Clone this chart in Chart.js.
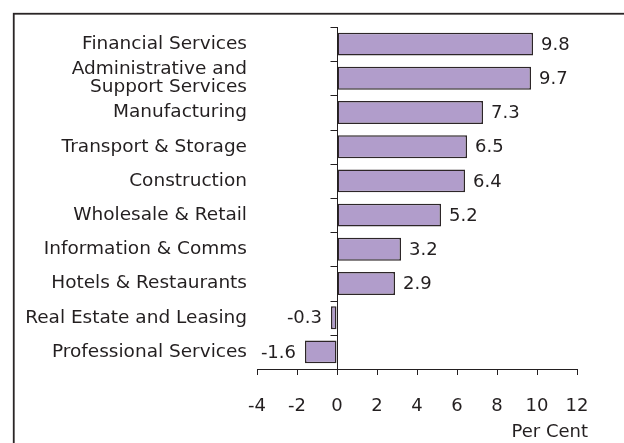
<!DOCTYPE html>
<html>
<head>
<meta charset="utf-8">
<script src="https://cdn.jsdelivr.net/npm/chart.js@4.4.1/dist/chart.umd.min.js"></script>
<style>
  html, body { margin: 0; padding: 0; background: #fff; }
  #wrap { width: 624px; height: 443px; position: relative; }
</style>
</head>
<body>
<div id="wrap"><canvas id="growthChart"></canvas></div>
<script>
// sector labels, top to bottom
const sectors = [
    "Financial Services",
    ["Administrative and", "Support Services"],
    "Manufacturing",
    "Transport & Storage",
    "Construction",
    "Wholesale & Retail",
    "Information & Comms",
    "Hotels & Restaurants",
    "Real Estate and Leasing",
    "Professional Services"
];
const growth = [9.8, 9.7, 7.3, 6.5, 6.4, 5.2, 3.2, 2.9, -0.3, -1.6];
const xTicks = [-4, -2, 0, 2, 4, 6, 8, 10, 12];
const axisTitle = "Per Cent";

const ink = "#231f20";
const fontFamily = "'DejaVu Sans', Verdana, sans-serif";

// frame, zero line with category ticks, value labels, axis title
const decorations = {
    id: "decorations",
    beforeDraw(chart) {
        const ctx = chart.ctx;
        ctx.save();
        ctx.strokeStyle = "#2a2526";
        ctx.lineWidth = 1.8;
        ctx.strokeRect(13.75, 13.75, 700, 500);
        ctx.restore();
    },
    afterDatasetsDraw(chart) {
        const ctx = chart.ctx;
        const x = chart.scales.x;
        const y = chart.scales.y;
        const x0 = Math.round(x.getPixelForValue(0)) + 0.5;

        ctx.save();
        ctx.strokeStyle = ink;
        ctx.lineWidth = 1;
        ctx.beginPath();
        ctx.moveTo(x0, chart.chartArea.top);
        ctx.lineTo(x0, chart.chartArea.bottom + 6);
        // category boundary ticks
        const half = (y.getPixelForValue(1) - y.getPixelForValue(0)) / 2;
        for (let i = 0; i < sectors.length; i++) {
            const yy = Math.round(y.getPixelForValue(i) - half) + 0.5;
            ctx.moveTo(x0 - 7, yy);
            ctx.lineTo(x0, yy);
        }
        ctx.stroke();

        // value labels
        ctx.fillStyle = ink;
        ctx.font = "18px " + fontFamily;
        ctx.textBaseline = "middle";
        const meta = chart.getDatasetMeta(0);
        meta.data.forEach((bar, i) => {
            const v = growth[i];
            if (v >= 0) {
                ctx.textAlign = "left";
                ctx.fillText(v.toFixed(1), bar.x + 8, bar.y + 1);
            } else {
                ctx.textAlign = "right";
                ctx.fillText(v.toFixed(1), bar.x - 9, bar.y + 1);
            }
        });

        // axis title under the last tick label
        ctx.textAlign = "right";
        ctx.textBaseline = "alphabetic";
        ctx.fillText(axisTitle, x.right + 11, x.bottom - 6);
        ctx.restore();
    }
};

const ctx = document.getElementById("growthChart").getContext("2d");
new Chart(ctx, {
    type: "bar",
    data: {
        labels: sectors,
        datasets: [{
            data: growth,
            backgroundColor: "#b19dcb",
            borderColor: "#2d2628",
            borderWidth: 1.5,
            borderSkipped: false,
            categoryPercentage: 1.0,
            barPercentage: 0.67
        }]
    },
    plugins: [decorations],
    options: {
        indexAxis: "y",
        responsive: true,
        maintainAspectRatio: false,
        animation: false,
        layout: { padding: { top: 27, right: 47, left: 0, bottom: 0 } },
        plugins: {
            legend: { display: false },
            tooltip: { enabled: false }
        },
        scales: {
            x: {
                min: -4,
                max: 12,
                afterBuildTicks(scale) {
                    scale.ticks = xTicks.map(v => ({ value: v }));
                },
                afterFit(scale) { scale.height = 74; },
                border: { display: true, color: ink, width: 1 },
                grid: {
                    drawOnChartArea: false,
                    drawTicks: true,
                    tickLength: 6,
                    color: ink
                },
                ticks: {
                    color: ink,
                    padding: 21,
                    maxRotation: 0,
                    font: { family: fontFamily, size: 18 }
                }
            },
            y: {
                afterFit(scale) { scale.width = 257; },
                border: { display: false },
                grid: { display: false },
                ticks: {
                    color: ink,
                    padding: 2,
                    autoSkip: false,
                    font: { family: fontFamily, size: 18.5, lineHeight: 0.96 }
                }
            }
        }
    }
});
</script>
</body>
</html>
